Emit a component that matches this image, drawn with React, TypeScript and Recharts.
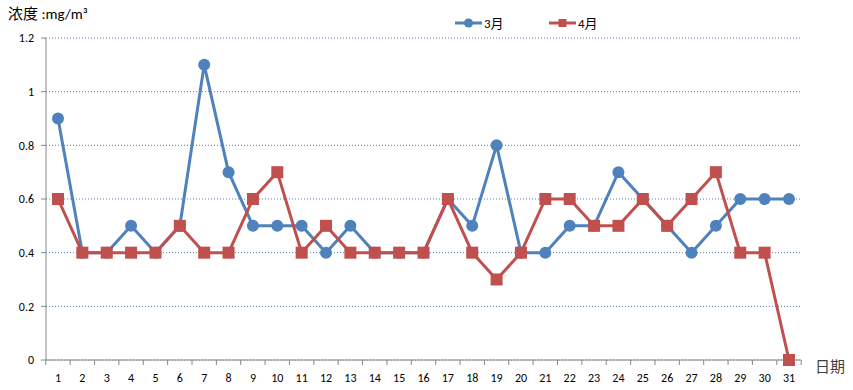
import { CartesianGrid, Legend, Line, LineChart, XAxis, YAxis } from "recharts";

const days = Array.from({ length: 31 }, (_, i) => String(i + 1));
const march = [0.9, 0.4, 0.4, 0.5, 0.4, 0.5, 1.1, 0.7, 0.5, 0.5, 0.5, 0.4, 0.5, 0.4, 0.4, 0.4, 0.6, 0.5, 0.8, 0.4, 0.4, 0.5, 0.5, 0.7, 0.6, 0.5, 0.4, 0.5, 0.6, 0.6, 0.6];
const april = [0.6, 0.4, 0.4, 0.4, 0.4, 0.5, 0.4, 0.4, 0.6, 0.7, 0.4, 0.5, 0.4, 0.4, 0.4, 0.4, 0.6, 0.4, 0.3, 0.4, 0.6, 0.6, 0.5, 0.5, 0.6, 0.5, 0.6, 0.7, 0.4, 0.4, 0];
const yTicks = [0, 0.2, 0.4, 0.6, 0.8, 1, 1.2];

const data = days.map((d, i) => ({ day: d, m3: march[i], m4: april[i] }));

const BLUE = "#4F81BD";
const RED = "#C0504D";
const AXIS = "#868686";
const FONT = "Calibri, 'Liberation Sans', 'Noto Sans CJK SC', sans-serif";
const HALF = 12.2;

function SquareDot(props: any) {
  const { cx, cy } = props;
  if (cx == null || cy == null) return null;
  return <rect x={cx - 6} y={cy - 6} width={12} height={12} fill={RED} />;
}

function DayTick(props: any) {
  const { x, y, payload, index } = props;
  const axisY = y - 13;
  return (
    <g>
      <line x1={x - HALF} y1={axisY} x2={x - HALF} y2={axisY + 5} stroke={AXIS} />
      {index === days.length - 1 && (
        <line x1={x + HALF} y1={axisY} x2={x + HALF} y2={axisY + 5} stroke={AXIS} />
      )}
      <text x={x} y={y} dy="0.71em" textAnchor="middle" fill="#000" fontSize={12} fontFamily={FONT}>
        {payload.value}
      </text>
    </g>
  );
}

function LegendContent(props: any) {
  const items = props.payload || [];
  return (
    <div style={{ display: "flex", fontFamily: FONT, fontSize: 13 }}>
      {items.map((it: any, i: number) => (
        <div key={i} style={{ display: "flex", alignItems: "center", width: 94 }}>
          <svg width={28} height={12}>
            <line x1={0} y1={6} x2={27} y2={6} stroke={it.color} strokeWidth={3} />
            {i === 0 ? (
              <circle cx={13.5} cy={6} r={4.5} fill={it.color} />
            ) : (
              <rect x={9.5} y={2} width={8} height={8} fill={it.color} />
            )}
          </svg>
          <span style={{ marginLeft: 1, color: "#000" }}>{it.value}</span>
        </div>
      ))}
    </div>
  );
}

export default function App() {
  return (
    <div style={{ position: "absolute", left: 0, top: 0, width: 853, height: 390, background: "#fff" }}>
      <div style={{ position: "absolute", left: 8, top: 2, fontSize: 15, fontFamily: FONT, color: "#000" }}>
        浓度 :mg/m³
      </div>
      <div style={{ position: "absolute", left: 815, top: 355, fontSize: 15, fontFamily: FONT, color: "#404040" }}>
        日期
      </div>
      <LineChart width={853} height={390} data={data} margin={{ top: 38, right: 52, left: 0, bottom: 0 }}>
        <CartesianGrid vertical={false} stroke={BLUE} strokeDasharray="1 2" />
        <XAxis
          dataKey="day"
          height={30}
          padding={{ left: 12, right: 12 }}
          stroke={AXIS}
          tickLine={false}
          tickSize={5}
          tickMargin={8}
          interval={0}
          tick={<DayTick />}
        />
        <YAxis
          width={46}
          domain={[0, 1.2]}
          ticks={yTicks}
          stroke={AXIS}
          tickSize={5}
          tickMargin={7}
          tickFormatter={(v) => String(v)}
          tick={{ fill: "#000", fontSize: 12, fontFamily: FONT }}
        />
        <Legend
          verticalAlign="top"
          content={<LegendContent />}
          wrapperStyle={{ position: "absolute", left: 455, top: 13, width: 200, height: 0, overflow: "visible" }}
        />
        <Line
          dataKey="m3"
          name="3月"
          stroke={BLUE}
          strokeWidth={3}
          dot={{ r: 6, fill: BLUE, stroke: "none" }}
          activeDot={false}
          isAnimationActive={false}
        />
        <Line
          dataKey="m4"
          name="4月"
          stroke={RED}
          strokeWidth={3}
          dot={<SquareDot />}
          activeDot={false}
          isAnimationActive={false}
        />
      </LineChart>
    </div>
  );
}
